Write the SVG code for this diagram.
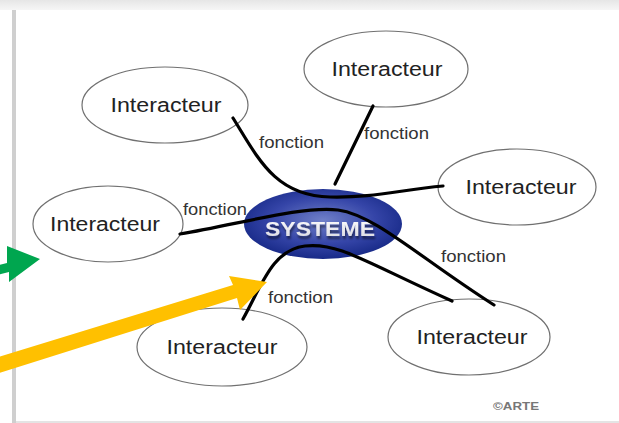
<svg xmlns="http://www.w3.org/2000/svg" width="619" height="423" viewBox="0 0 619 423">
<defs>
<radialGradient id="sysg" cx="50%" cy="45%" r="55%">
<stop offset="0" stop-color="#7080c8"/>
<stop offset="0.6" stop-color="#3545a8"/>
<stop offset="1" stop-color="#182a88"/>
</radialGradient>
<linearGradient id="txtg" x1="0" y1="0" x2="0" y2="1">
<stop offset="0" stop-color="#ffffff"/>
<stop offset="1" stop-color="#d8d8e0"/>
</linearGradient>
<linearGradient id="topg" x1="0" y1="0" x2="0" y2="1">
<stop offset="0" stop-color="#e6e6e6"/>
<stop offset="1" stop-color="#f6f6f6"/>
</linearGradient>
<filter id="sh" x="-10%" y="-20%" width="130%" height="160%">
<feGaussianBlur in="SourceAlpha" stdDeviation="1.2"/>
<feOffset dx="1" dy="3"/>
<feComponentTransfer><feFuncA type="linear" slope="0.5"/></feComponentTransfer>
<feMerge><feMergeNode/><feMergeNode in="SourceGraphic"/></feMerge>
</filter>
</defs>
<style>
.act ellipse{fill:#fff;stroke:#707070;stroke-width:1.2}
.act text{font-family:"Liberation Sans",Arial,sans-serif;font-size:20px;fill:#222;text-anchor:middle}
.lbl{font-family:"Liberation Sans",Arial,sans-serif;font-size:16px;fill:#333}
.con path{fill:none;stroke:#000;stroke-width:3.2;stroke-linecap:round}
</style>
<rect x="0" y="0" width="619" height="423" fill="#fff"/>
<rect x="0" y="0" width="619" height="10" fill="url(#topg)"/>
<rect x="12" y="10" width="4" height="413" fill="#cfcfcf"/>
<rect x="16" y="10" width="603" height="411" fill="#fff"/>
<rect x="16" y="421" width="603" height="2" fill="#e4e4e4"/>

<g id="n-top" class="act"><ellipse cx="386" cy="69" rx="82" ry="38"/><text x="387" y="76" textLength="111" lengthAdjust="spacingAndGlyphs">Interacteur</text></g>
<g id="n-topleft" class="act"><ellipse cx="165" cy="105" rx="83" ry="38"/><text x="166" y="112" textLength="111" lengthAdjust="spacingAndGlyphs">Interacteur</text></g>
<g id="n-right" class="act"><ellipse cx="517" cy="187" rx="79" ry="38"/><text x="521" y="194" textLength="111" lengthAdjust="spacingAndGlyphs">Interacteur</text></g>
<g id="n-left" class="act"><ellipse cx="108" cy="224" rx="75" ry="38"/><text x="105" y="231" textLength="110" lengthAdjust="spacingAndGlyphs">Interacteur</text></g>
<g id="n-botleft" class="act"><ellipse cx="222" cy="347" rx="85" ry="39"/><text x="222" y="354" textLength="111" lengthAdjust="spacingAndGlyphs">Interacteur</text></g>
<g id="n-botright" class="act"><ellipse cx="469" cy="337" rx="81" ry="38"/><text x="472" y="344" textLength="111" lengthAdjust="spacingAndGlyphs">Interacteur</text></g>

<g id="n-systeme">
<ellipse cx="323" cy="224" rx="79" ry="35" fill="url(#sysg)"/>
<text x="320" y="236" font-family="'Liberation Sans',Arial,sans-serif" font-size="21" font-weight="bold" fill="url(#txtg)" text-anchor="middle" textLength="110" lengthAdjust="spacingAndGlyphs" filter="url(#sh)">SYSTEME</text>
</g>

<g id="connectors" class="con">
<path d="M233,118 C258,158 275,196 330,197 C372,198 400,190 443,186"/>
<path d="M373,106 L335,184"/>
<path d="M180,234 C240,224 300,206 338,210 C375,215 420,258 494,305"/>
<path d="M243,319 C262,285 272,250 305,246 C338,242 365,262 452,301"/>
</g>

<g id="labels">
<text class="lbl" x="259" y="148" textLength="65" lengthAdjust="spacingAndGlyphs">fonction</text>
<text class="lbl" x="364" y="139" textLength="65" lengthAdjust="spacingAndGlyphs">fonction</text>
<text class="lbl" x="183" y="215" textLength="64" lengthAdjust="spacingAndGlyphs">fonction</text>
<text class="lbl" x="441" y="262" textLength="65" lengthAdjust="spacingAndGlyphs">fonction</text>
<text class="lbl" x="268" y="303" textLength="65" lengthAdjust="spacingAndGlyphs">fonction</text>
<text x="493" y="410" font-family="'Liberation Sans',Arial,sans-serif" font-size="10" font-weight="bold" fill="#777" textLength="46" lengthAdjust="spacingAndGlyphs">©ARTE</text>
</g>

<g id="green-arrow">
<polygon points="-5,266 7,263 7,246 40,259 9,282 9,272 -3,275" fill="#00a64f"/>
</g>
<g id="yellow-arrow">
<polygon points="-5,358 233,285 229,276 267,282 240,310 237,298 -1,373" fill="#ffc000"/>
</g>
</svg>
